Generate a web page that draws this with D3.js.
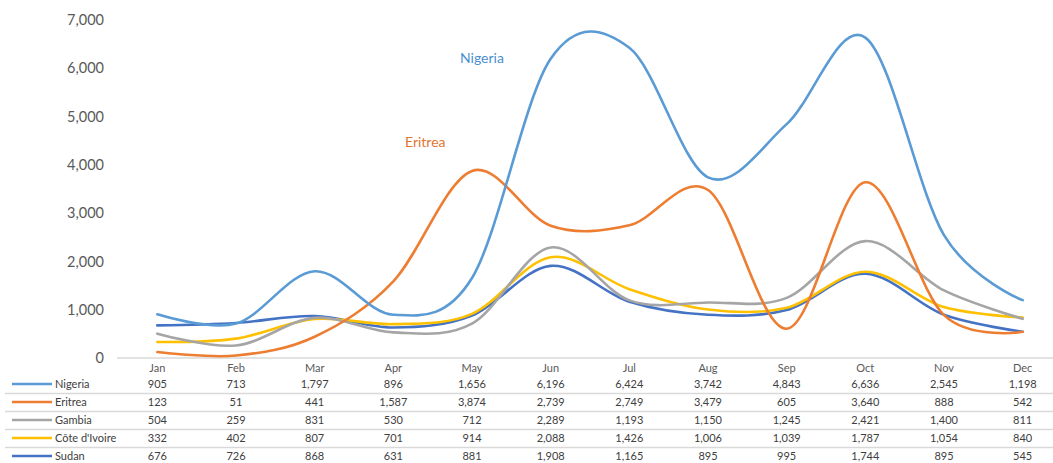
<!DOCTYPE html>
<html>
<head>
<meta charset="utf-8">
<script src="https://cdn.jsdelivr.net/npm/d3@7"></script>
<style>
  body { margin: 0; background: #fff; }
  svg { display: block; font-family: Lato, "Open Sans", sans-serif; }
</style>
</head>
<body>
<svg id="chart" width="1053" height="463"></svg>
<script>
const months = ["Jan", "Feb", "Mar", "Apr", "May", "Jun", "Jul", "Aug", "Sep", "Oct", "Nov", "Dec"]
const countries = ["Nigeria", "Eritrea", "Gambia", "Côte d'Ivoire", "Sudan"]
const colors = ["#5b9bd5", "#ed7d31", "#a5a5a5", "#ffc000", "#4472c4"]

const nigeria = [905, 713, 1797, 896, 1656, 6196, 6424, 3742, 4843, 6636, 2545, 1198]
const eritrea = [123, 51, 441, 1587, 3874, 2739, 2749, 3479, 605, 3640, 888, 542]
const gambia = [504, 259, 831, 530, 712, 2289, 1193, 1150, 1245, 2421, 1400, 811]
const coteDIvoire = [332, 402, 807, 701, 914, 2088, 1426, 1006, 1039, 1787, 1054, 840]
const sudan = [676, 726, 868, 631, 881, 1908, 1165, 895, 995, 1744, 895, 545]

const yTicks = [0, 1000, 2000, 3000, 4000, 5000, 6000, 7000]

function drawChart(){
  const svg = d3.select("#chart")
  const width = 1053
  const series = [nigeria, eritrea, gambia, coteDIvoire, sudan]
  const data = countries.map((name, i) => ({name, color: colors[i], values: series[i]}))

  const x = d3.scaleBand()
    .domain(months)
    .range([118, 1062])

  const y = d3.scaleLinear()
    .domain([0, 7000])
    .range([358, 20])

  const fmt = d3.format(",")

  // y axis labels
  svg.append("g")
    .selectAll("text")
    .data(yTicks)
    .join("text")
      .attr("x", 104)
      .attr("y", d => y(d))
      .attr("dy", "0.35em")
      .attr("text-anchor", "end")
      .attr("font-size", 14.5)
      .attr("fill", "#595959")
      .text(d => fmt(d))

  // baseline
  svg.append("line")
    .attr("x1", 117).attr("x2", width)
    .attr("y1", y(0)).attr("y2", y(0))
    .attr("stroke", "#d9d9d9")
    .attr("stroke-width", 1.5)

  // excel-style smoothing ~ uniform catmull-rom
  const line = d3.line()
    .x((d, i) => x(months[i]) + x.bandwidth() / 2)
    .y(d => y(d))
    .curve(d3.curveCatmullRom.alpha(0))

  // draw last-to-first so Nigeria sits on top like the reference
  svg.append("g")
    .selectAll("path")
    .data(data.slice().reverse())
    .join("path")
      .attr("fill", "none")
      .attr("stroke", d => d.color)
      .attr("stroke-width", 2.6)
      .attr("stroke-linejoin", "round")
      .attr("stroke-linecap", "round")
      .attr("d", d => line(d.values))

  // in-chart labels
  svg.append("text")
    .attr("x", 460).attr("y", 63)
    .attr("font-size", 14)
    .attr("fill", "#4a8fd0")
    .text("Nigeria")
  svg.append("text")
    .attr("x", 405).attr("y", 147)
    .attr("font-size", 14)
    .attr("fill", "#e07532")
    .text("Eritrea")

  // data table
  const table = svg.append("g")
  const rowY = i => 384 + i * 18

  table.selectAll(".month")
    .data(months)
    .join("text")
      .attr("class", "month")
      .attr("x", d => x(d) + x.bandwidth() / 2)
      .attr("y", 368)
      .attr("dy", "0.35em")
      .attr("text-anchor", "middle")
      .attr("font-size", 11)
      .attr("fill", "#595959")
      .text(d => d)

  table.selectAll(".sep")
    .data(d3.range(4))
    .join("line")
      .attr("class", "sep")
      .attr("x1", 5).attr("x2", width)
      .attr("y1", i => rowY(i) + 9.5).attr("y2", i => rowY(i) + 9.5)
      .attr("stroke", "#d9d9d9")
      .attr("stroke-width", 1.5)

  const rows = table.selectAll(".row")
    .data(data)
    .join("g")
      .attr("class", "row")
      .attr("transform", (d, i) => `translate(0,${rowY(i)})`)

  rows.append("line")
    .attr("x1", 12).attr("x2", 52)
    .attr("stroke", d => d.color)
    .attr("stroke-width", 2.6)

  rows.append("text")
    .attr("x", 55)
    .attr("dy", "0.35em")
    .attr("font-size", 11)
    .attr("fill", "#404040")
    .text(d => d.name)

  rows.selectAll(".val")
    .data(d => d.values)
    .join("text")
      .attr("class", "val")
      .attr("x", (d, i) => x(months[i]) + x.bandwidth() / 2)
      .attr("dy", "0.35em")
      .attr("text-anchor", "middle")
      .attr("font-size", 11)
      .attr("fill", "#404040")
      .text(d => fmt(d))
}

drawChart()
</script>
</body>
</html>
